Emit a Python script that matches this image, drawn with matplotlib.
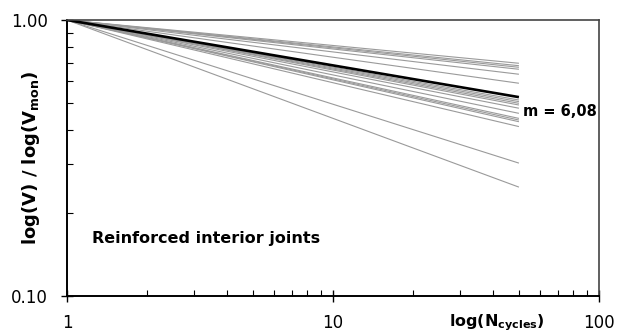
import matplotlib
matplotlib.use("Agg")
import matplotlib.pyplot as plt
from matplotlib.ticker import FixedLocator, NullFormatter, FixedFormatter

plt.rcParams["font.family"] = ["DejaVu Sans"]
plt.rcParams["mathtext.fontset"] = "custom"
plt.rcParams["mathtext.rm"] = "DejaVu Sans"
plt.rcParams["mathtext.bf"] = "DejaVu Sans:bold"

# Cycle range of each degradation curve
n_start = 1
n_end = 50

# Normalised strength ratio reached at n_end for each test specimen
specimen_end_ratio = [
    0.697, 0.683, 0.674, 0.663, 0.636, 0.590,
    0.513, 0.506, 0.499, 0.492, 0.479, 0.459,
    0.440, 0.434, 0.428, 0.411, 0.303, 0.248,
]

# Mean fatigue exponent
m_mean = 6.08
m_label = "m = 6,08"

x_ticks = [1, 10, 100]
x_tick_labels = ["1", "10", "100"]
y_ticks = [0.1, 1.0]
y_tick_labels = ["0.10", "1.00"]

fig = plt.figure(figsize=(6.23, 3.33), dpi=100)
ax = fig.add_axes([67 / 623, 1 - 296 / 333, (599 - 67) / 623, (296 - 20) / 333])

for r in specimen_end_ratio:
    ax.plot([n_start, n_end], [1.0, r], color="#9a9a9a", lw=0.8, solid_capstyle="butt")

mean_end = n_end ** (-1.0 / m_mean)
ax.plot([n_start, n_end], [1.0, mean_end], color="black", lw=1.9, solid_capstyle="butt")
ax.text(n_end * 1.04, mean_end * 0.885, m_label, fontsize=10.5, fontweight="bold",
        ha="left", va="center")

ax.set_xscale("log")
ax.set_yscale("log")
ax.set_xlim(1, 100)
ax.set_ylim(0.1, 1.0)

ax.xaxis.set_major_locator(FixedLocator(x_ticks))
ax.xaxis.set_major_formatter(FixedFormatter(x_tick_labels))
ax.xaxis.set_minor_locator(FixedLocator([k * d for d in (1, 10) for k in range(2, 10)]))
ax.xaxis.set_minor_formatter(NullFormatter())
ax.yaxis.set_major_locator(FixedLocator(y_ticks))
ax.yaxis.set_major_formatter(FixedFormatter(y_tick_labels))
ax.yaxis.set_minor_locator(FixedLocator([k / 10 for k in range(2, 10)]))
ax.yaxis.set_minor_formatter(NullFormatter())

ax.tick_params(which="major", direction="inout", length=8, width=1.0,
               labelsize=12, colors="black")
ax.tick_params(axis="y", which="major", pad=10)
ax.tick_params(axis="x", which="major", pad=9)
ax.tick_params(which="minor", direction="in", length=4, width=0.8)

for side in ("left", "bottom"):
    ax.spines[side].set_linewidth(1.4)
    ax.spines[side].set_color("black")
for side in ("top", "right"):
    ax.spines[side].set_linewidth(1.2)
    ax.spines[side].set_color("#444444")

ax.set_ylabel(r"log(V) / log(V$_\mathbf{mon}$)", fontsize=13, fontweight="bold")
ax.yaxis.set_label_coords((42 - 67) / (599 - 67), 0.5)
fig.text(497 / 623, 1 - 323 / 333, r"log(N$_\mathbf{cycles}$)", fontsize=11.5,
         fontweight="bold", ha="center", va="center")

ax.text(92 / 623, 1 - 238 / 333, "Reinforced interior joints", transform=fig.transFigure,
        fontsize=11.5, fontweight="bold", ha="left", va="center")

fig.savefig("out.png", dpi=100)
